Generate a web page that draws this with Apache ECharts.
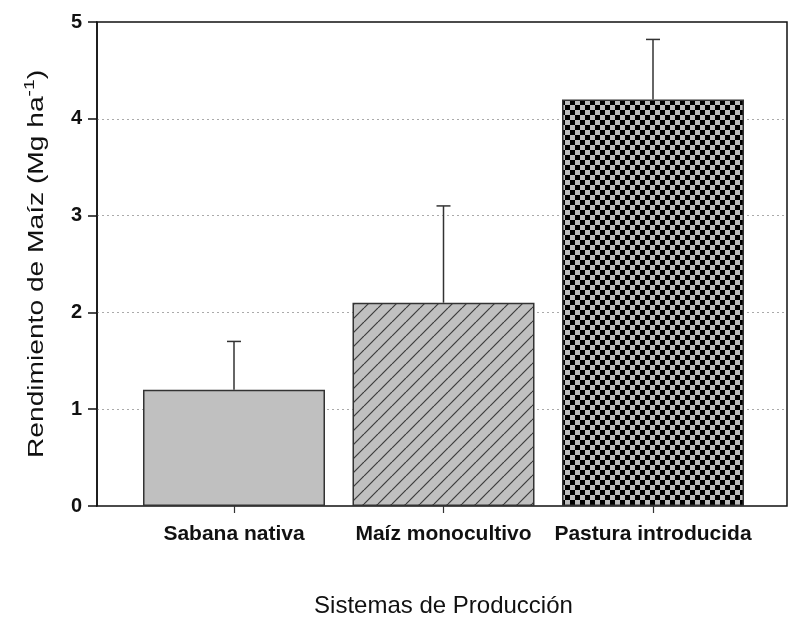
<!DOCTYPE html>
<html>
<head>
<meta charset="utf-8">
<script src="https://cdn.jsdelivr.net/npm/echarts@6/dist/echarts.min.js"></script>
<style>
  html, body { margin: 0; padding: 0; background: #fff; }
  #chart { width: 789px; height: 617px; }
</style>
</head>
<body>
<div id="chart"></div>
<script>
// Production systems and maize yield (Mg/ha) with upper standard deviation
const categories = ['Sabana nativa', 'Maíz monocultivo', 'Pastura introducida'];
const yieldMean = [1.2, 2.1, 4.2];
const yieldUpper = [1.7, 3.1, 4.82];
const yTicks = [0, 1, 2, 3, 4, 5];

const FONT = "'Liberation Sans', Arial, sans-serif";

// Fill patterns: plain gray, diagonal hatch, checkerboard
function hatchPattern() {
  const s = 14;
  const c = document.createElement('canvas');
  c.width = s; c.height = s;
  const g = c.getContext('2d');
  g.fillStyle = '#c0c0c0';
  g.fillRect(0, 0, s, s);
  g.strokeStyle = '#3c3c3c';
  g.lineWidth = 1.2;
  for (const k of [-s, 0, s]) {
    g.beginPath();
    g.moveTo(k, s);
    g.lineTo(k + s, 0);
    g.stroke();
  }
  return c;
}
function checkerPattern() {
  const cell = 5;
  const c = document.createElement('canvas');
  c.width = cell * 2; c.height = cell * 2;
  const g = c.getContext('2d');
  g.fillStyle = '#bcbcbc';
  g.fillRect(0, 0, cell * 2, cell * 2);
  g.fillStyle = '#000';
  g.fillRect(0, 0, cell, cell);
  g.fillRect(cell, cell, cell, cell);
  return c;
}

const fills = [
  '#c0c0c0',
  { image: hatchPattern(), repeat: 'repeat' },
  { image: checkerPattern(), repeat: 'repeat' }
];

const chart = echarts.init(document.getElementById('chart'), null, { renderer: 'canvas' });

chart.setOption({
  backgroundColor: '#fff',
  animation: false,
  grid: [
    // framed plot area carrying the value axis
    { left: 97, right: 2, top: 22, bottom: 111, outerBoundsMode: 'none', containLabel: false,
      show: true, borderColor: '#111', borderWidth: 1.5, backgroundColor: 'transparent' },
    // bar placement grid
    { left: 129.25, right: 31.25, top: 22, bottom: 111, outerBoundsMode: 'none', containLabel: false }
  ],
  xAxis: [
    { gridIndex: 0, type: 'value', show: false, min: 0, max: 1 },
    {
      gridIndex: 1,
      type: 'category',
      data: categories,
      boundaryGap: true,
      axisLine: { show: false },
      axisTick: { show: true, alignWithLabel: true, length: 7, lineStyle: { color: '#333', width: 1.2 } },
      axisLabel: { interval: 0, hideOverlap: false, margin: 18, color: '#111',
        fontFamily: FONT, fontWeight: 'bold', fontSize: 21 },
      name: 'Sistemas de Producción',
      nameLocation: 'middle',
      nameGap: 88,
      nameTextStyle: { color: '#111', fontFamily: FONT, fontSize: 24 }
    }
  ],
  yAxis: [
    {
      gridIndex: 0,
      type: 'value',
      min: 0, max: 5, interval: 1,
      axisLine: { show: true, lineStyle: { color: '#111', width: 1.5 } },
      axisTick: { show: true, inside: false, length: 9, lineStyle: { color: '#111', width: 1.5 } },
      axisLabel: {
        margin: 15, color: '#111', fontFamily: FONT, fontWeight: 'bold', fontSize: 20,
        formatter: v => (yTicks.includes(v) ? String(v) : '')
      },
      splitLine: { show: true, showMinLine: false, showMaxLine: false,
        lineStyle: { color: '#aaa', type: [2, 3], width: 1 } }
    },
    { gridIndex: 1, type: 'value', min: 0, max: 5, show: false }
  ],
  graphic: [
    {
      // vertical axis title, drawn slightly elongated along its baseline
      type: 'text',
      x: 35, y: 264,
      rotation: Math.PI / 2,
      scaleX: 1.28,
      style: {
        text: '{t|Rendimiento de Maíz (Mg ha}{s|-1}{t|)}',
        align: 'center',
        verticalAlign: 'middle',
        rich: {
          t: { fontFamily: FONT, fontSize: 22, fill: '#111', lineHeight: 26, verticalAlign: 'bottom' },
          s: { fontFamily: FONT, fontSize: 15, fill: '#111', lineHeight: 26, verticalAlign: 'top' }
        }
      }
    }
  ],
  series: [
    {
      type: 'bar',
      xAxisIndex: 1, yAxisIndex: 1,
      barWidth: 182,
      data: yieldMean.map((v, i) => ({
        value: v,
        itemStyle: { color: fills[i], borderColor: '#333', borderWidth: 1.5 }
      })),
      z: 2
    },
    {
      type: 'custom',
      xAxisIndex: 1, yAxisIndex: 1,
      z: 3,
      data: yieldMean.map((v, i) => [i, v, yieldUpper[i]]),
      renderItem: function (params, api) {
        const base = api.coord([api.value(0), api.value(1)]);
        const top = api.coord([api.value(0), api.value(2)]);
        const half = 7;
        const style = { stroke: '#333', lineWidth: 1.5, fill: null };
        return {
          type: 'group',
          children: [
            { type: 'line', shape: { x1: base[0], y1: base[1], x2: top[0], y2: top[1] }, style },
            { type: 'line', shape: { x1: top[0] - half, y1: top[1], x2: top[0] + half, y2: top[1] }, style }
          ]
        };
      }
    }
  ]
});
</script>
</body>
</html>
